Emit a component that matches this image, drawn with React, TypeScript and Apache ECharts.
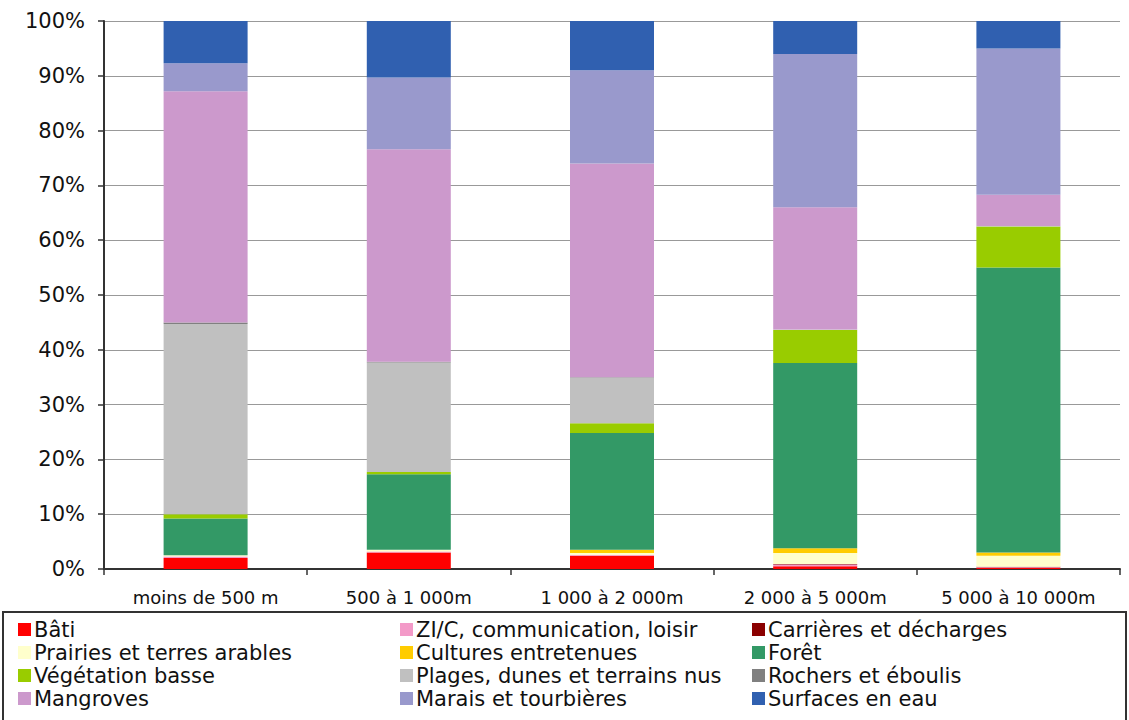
import React, { useEffect, useRef } from "react";
import * as echarts from "echarts";

const categories = ["moins de 500 m", "500 à 1 000m", "1 000 à 2 000m", "2 000 à 5 000m", "5 000 à 10 000m"];

const seriesNames = [
  "Bâti",
  "ZI/C, communication, loisir",
  "Carrières et décharges",
  "Prairies et terres arables",
  "Cultures entretenues",
  "Forêt",
  "Végétation basse",
  "Plages, dunes et terrains nus",
  "Rochers et éboulis",
  "Mangroves",
  "Marais et tourbières",
  "Surfaces en eau",
];

const seriesColors = [
  "#FF0000", "#F39AC8", "#8B0000", "#FFFFCC", "#FFCC00", "#339966",
  "#99CC00", "#C0C0C0", "#808080", "#CC99CC", "#9999CC", "#3060B0",
];

// percentage values per category (bottom to top)
const bati = [2.0, 3.0, 2.4, 0.5, 0.2];
const zic = [0.3, 0.2, 0.2, 0.3, 0.1];
const carrieres = [0, 0, 0, 0.1, 0.1];
const prairies = [0.2, 0.3, 0.3, 2.0, 2.0];
const cultures = [0, 0, 0.6, 0.9, 0.6];
const foret = [6.7, 13.8, 21.3, 33.8, 52.0];
const vegetation = [0.8, 0.4, 1.8, 6.0, 7.5];
const plages = [34.7, 20.0, 8.3, 0.1, 0.1];
const rochers = [0.3, 0.1, 0.1, 0, 0];
const mangroves = [42.2, 38.8, 39.0, 22.3, 5.7];
const marais = [5.1, 13.1, 17.0, 28.0, 26.7];
const surfaces = [7.7, 10.3, 9.0, 6.0, 5.0];

const seriesValues = [bati, zic, carrieres, prairies, cultures, foret, vegetation, plages, rochers, mangroves, marais, surfaces];

const yTicks = { min: 0, max: 100, interval: 10 };

const legendColumns = [
  [0, 3, 6, 9],
  [1, 4, 7, 10],
  [2, 5, 8, 11],
];

export default function App() {
  const ref = useRef<HTMLDivElement>(null);
  useEffect(() => {
    document.body.style.margin = "0";
    const chart = echarts.init(ref.current!, null, { renderer: "svg" });
    const font = "'DejaVu Sans', Verdana, sans-serif";
    const legendLefts = [18, 400, 752];
    chart.setOption({
      animation: false,
      backgroundColor: "#ffffff",
      grid: { left: 104, right: 9, top: 21, bottom: 151, containLabel: false },
      xAxis: {
        type: "category",
        data: categories,
        axisLine: { lineStyle: { color: "#333", width: 2 } },
        axisTick: { show: true, alignWithLabel: false, length: 6, lineStyle: { color: "#333", width: 1.5 } },
        axisLabel: { color: "#111", fontSize: 18, fontFamily: font, margin: 19 },
      },
      yAxis: {
        type: "value",
        min: yTicks.min,
        max: yTicks.max,
        interval: yTicks.interval,
        axisLine: { show: true, lineStyle: { color: "#333", width: 2 } },
        axisTick: { show: true, length: 6, lineStyle: { color: "#333", width: 1.5 } },
        axisLabel: { color: "#111", fontSize: 21, fontFamily: font, margin: 19, formatter: "{value}%" },
        splitLine: { show: true, lineStyle: { color: "#999", width: 1 } },
      },
      legend: legendColumns.map((col, i) => ({
        orient: "vertical",
        left: legendLefts[i],
        top: 619,
        padding: 0,
        itemWidth: 13,
        itemHeight: 13,
        itemGap: 2,
        icon: "rect",
        selectedMode: false,
        data: col.map((k) => seriesNames[k]),
        textStyle: { color: "#111", fontSize: 21, fontFamily: font, lineHeight: 21, padding: [0, 0, 0, -2] },
      })),
      graphic: [
        {
          type: "rect",
          shape: { x: 3, y: 612, width: 1123, height: 120 },
          style: { fill: "none", stroke: "#333", lineWidth: 2 },
          silent: true,
        },
      ],
      series: seriesNames.map((name, i) => ({
        name,
        type: "bar",
        stack: "total",
        barWidth: 84,
        itemStyle: { color: seriesColors[i] },
        data: seriesValues[i],
      })),
    });
    return () => chart.dispose();
  }, []);
  return <div ref={ref} style={{ width: 1129, height: 720 }} />;
}
